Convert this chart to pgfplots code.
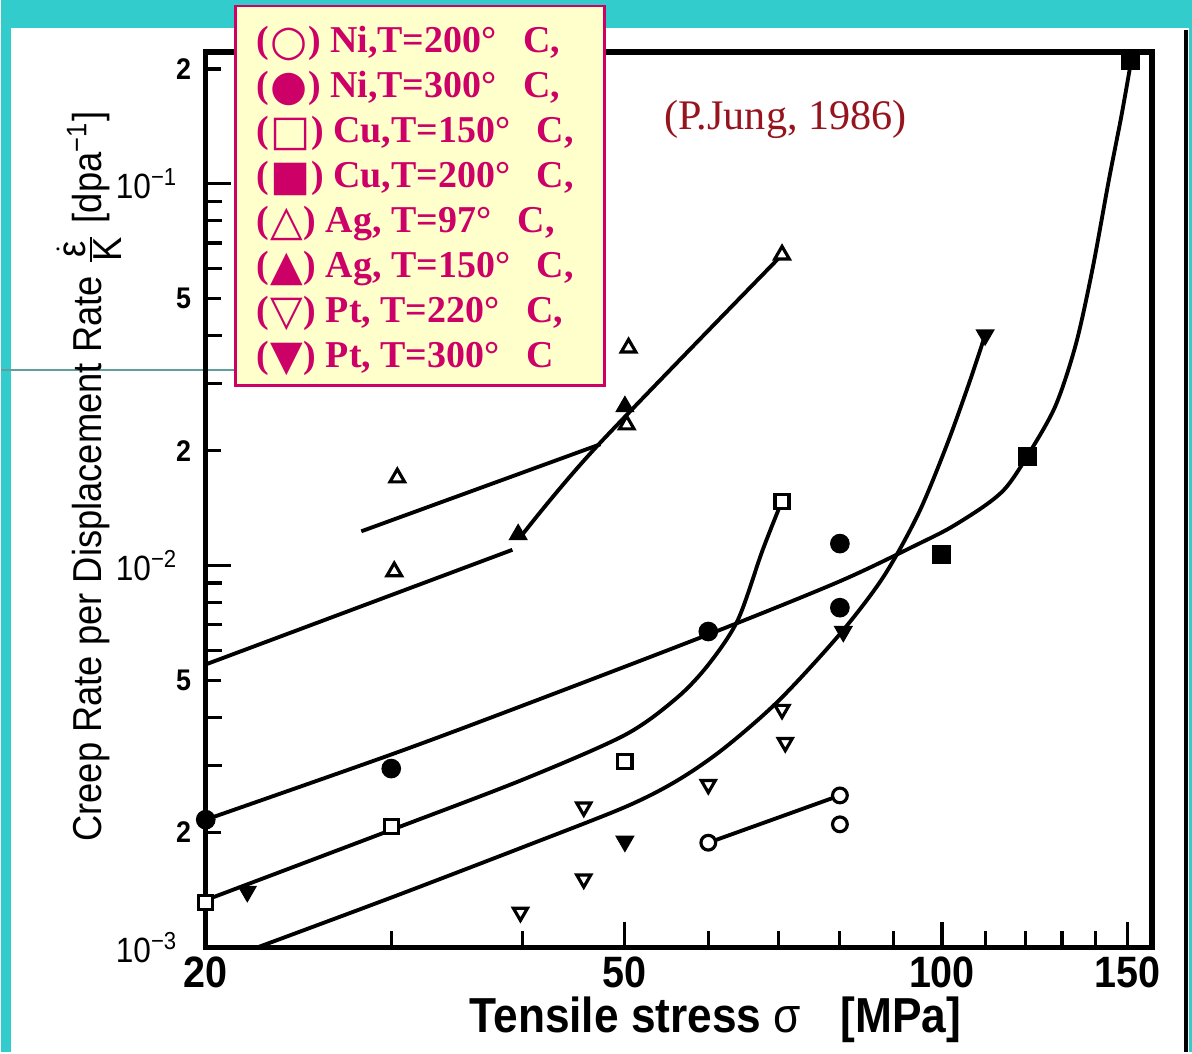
\documentclass[border=0pt]{standalone}
\usepackage{pgfplots}
\pgfplotsset{compat=1.18}
\usepackage{fontspec}
\setmainfont{Liberation Serif}
\newfontfamily\axf[FakeStretch=0.9]{Liberation Sans}
\newfontfamily\symf{DejaVu Sans}
\definecolor{teal2}{RGB}{51,204,204}
\definecolor{pinkc}{RGB}{204,0,102}
\definecolor{legbg}{RGB}{255,255,204}
\definecolor{jungc}{RGB}{150,20,30}
\newcommand\legline[3]{\node[anchor=base west, inner sep=0pt, text height=0.75em, text depth=0.2em, text=pinkc, font=\fontsize{10.8}{13}\selectfont\bfseries] at (2.55,#1) {(\hspace{0.3pt}\raisebox{-0.06em}{\scalebox{1.12}{\symf\mdseries #2}}\hspace{0.3pt}) #3};}
\begin{document}
\begin{tikzpicture}[x=1cm,y=1cm]
\fill[teal2] (0,0) rectangle (11.92,10.53);
\fill[white] (0.10,0) rectangle (11.89,10.25);
\draw[black,line width=0.9pt] (11.86,0) -- (11.86,10.23);
\draw[gray!60!teal2, line width=0.5pt] (0,6.83) -- (2.35,6.83);
\begin{axis}[
  at={(2.05cm,1.05cm)}, anchor=south west,
  scale only axis, width=9.47cm, height=8.96cm,
  xmode=log, ymode=log,
  xmin=20, xmax=158.3, ymin=1e-3, ymax=0.2216,
  clip=false,
  axis line style={line width=1.5pt},
  tick align=inside, xtick pos=bottom, ytick pos=left,
  tick style={line width=0.9pt, black},
  major tick length=0.25cm, minor tick length=0.16cm,
  xtick={20,50,100,150}, xticklabels={20,50,100,150},
  minor xtick={30,40,60,70,80,90,110,120,130,140},
  xticklabel style={font=\fontsize{12.5}{12.5}\selectfont\axf\bfseries, inner sep=0pt, yshift=-0.09cm},
  ytick={0.001,0.01,0.1},
  yticklabels={10\textsuperscript{−3},10\textsuperscript{−2},10\textsuperscript{−1}},
  yticklabel style={font=\fontsize{10}{10}\selectfont\axf, inner sep=0pt, xshift=-0.27cm},
  extra y ticks={0.002,0.005,0.02,0.05,0.2},
  extra y tick labels={2,5,2,5,2},
  extra y tick style={major tick length=0.15cm, yticklabel style={font=\fontsize{8.5}{9}\selectfont\axf\bfseries, xshift=0.13cm}},
  minor ytick={0.003,0.004,0.006,0.007,0.008,0.009,0.03,0.04,0.06,0.07,0.08,0.09},
  xlabel={Tensile stress {\mdseries σ}\hspace{0.8em}[MPa]},
  xlabel style={at={(axis description cs:0.5385,-0.0804)}, anchor=center, font=\fontsize{14}{15}\selectfont\axf\bfseries},
  ylabel={Creep Rate per Displacement Rate $\frac{\dot{\mbox{\axf ε}}}{\mbox{\axf K}}$ [dpa\textsuperscript{−1}]},
  ylabel style={at={(axis description cs:-0.1235,0.5257)}, anchor=center, font=\fontsize{11.5}{12}\selectfont\axf},
]
% fitted curves
\addplot[black, line width=1.1pt] coordinates {(60,1.88e-3) (80,2.50e-3)};
\addplot[black, line width=1.1pt, smooth] coordinates {
(20,2.16e-3) (30,3.2e-3) (40,4.3e-3) (60,6.6e-3) (80,9.1e-3) (95,1.14e-2) (102,1.26e-2)
(110,1.44e-2) (115,1.6e-2) (120,1.9e-2) (128,2.6e-2) (134,3.8e-2) (139,6.0e-2)
(144,0.102) (148,0.15) (151,0.205)};
\addplot[black, line width=1.1pt, smooth] coordinates {
(20,1.33e-3) (30,2.03e-3) (40,2.75e-3) (50,3.6e-3) (56,4.5e-3) (60,5.5e-3) (64,7.2e-3)
(67.5,1.09e-2) (70.3,1.45e-2)};
\addplot[black, line width=1.1pt, smooth] coordinates {
(22.4,1.0e-3) (30,1.35e-3) (40,1.83e-3) (50,2.33e-3) (56,2.73e-3) (62,3.31e-3) (70,4.43e-3)
(80,6.62e-3) (88,9.35e-3) (95,1.37e-2) (101,2.06e-2) (106,2.98e-2) (110,4.05e-2)};
\addplot[black, line width=1.1pt] coordinates {
(20,5.51e-3) (39.1,1.10e-2)};
\addplot[black, line width=1.1pt] coordinates {
(28.1,1.23e-2) (47.4,2.08e-2)};
\addplot[black, line width=1.1pt, smooth] coordinates {
(40,1.21e-2) (47,2.05e-2) (70.5,6.52e-2)};
% data points
\addplot[only marks, mark=*, mark size=2.1pt, mark options={draw=black, fill=white, line width=0.9pt}] coordinates {
(60,1.88e-3) (80,2.50e-3) (80,2.10e-3)};
\addplot[only marks, mark=*, mark size=2.6pt, mark options={draw=black, fill=black}] coordinates {
(20,2.16e-3) (30,2.94e-3) (60,6.72e-3) (80,1.142e-2) (80,7.76e-3)};
\addplot[only marks, mark=square*, mark size=2.0pt, mark options={draw=black, fill=white, line width=0.9pt}] coordinates {
(20,1.31e-3) (30,2.07e-3) (50,3.07e-3) (70.5,1.47e-2)};
\addplot[only marks, mark=square*, mark size=2.5pt, mark options={draw=black, fill=black}] coordinates {
(100,1.069e-2) (120.5,1.93e-2) (151,0.211)};
\addplot[only marks, mark=triangle*, mark size=2.4pt, mark options={draw=black, fill=white, line width=0.9pt}] coordinates {
(30.4,1.70e-2) (30.2,9.65e-3) (50.4,3.72e-2) (50.2,2.34e-2) (70.5,6.52e-2)};
\addplot[only marks, mark=triangle*, mark size=2.8pt, mark options={draw=black, fill=black}] coordinates {
(39.6,1.206e-2) (50,2.61e-2)};
\addplot[only marks, mark=triangle*, mark size=2.3pt, mark options={draw=black, fill=white, line width=0.9pt, rotate=180}] coordinates {
(39.8,1.235e-3) (45.7,1.51e-3) (45.7,2.33e-3) (60,2.67e-3) (70.5,4.20e-3) (71,3.44e-3)};
\addplot[only marks, mark=triangle*, mark size=2.8pt, mark options={draw=black, fill=black, rotate=180}] coordinates {
(21.9,1.40e-3) (50,1.895e-3) (80.6,6.72e-3) (109.9,4.02e-2)};
\end{axis}
% legend box
\filldraw[fill=legbg, draw=pinkc, line width=0.8pt] (2.35,10.47) rectangle (6.04,6.67);
\legline{10.00}{○}{Ni,T=200°\hspace{0.7em}C,}
\legline{9.55}{●}{Ni,T=300°\hspace{0.7em}C,}
\legline{9.10}{□}{Cu,T=150°\hspace{0.7em}C,}
\legline{8.65}{■}{Cu,T=200°\hspace{0.7em}C,}
\legline{8.20}{△}{Ag, T=97°\hspace{0.7em}C,}
\legline{7.75}{▲}{Ag, T=150°\hspace{0.7em}C,}
\legline{7.30}{▽}{Pt, T=220°\hspace{0.7em}C,}
\legline{6.85}{▼}{Pt, T=300°\hspace{0.7em}C}
\node[text=jungc, font=\fontsize{12}{14}\selectfont] at (7.85,9.33) {(P.Jung, 1986)};
\end{tikzpicture}
\end{document}
